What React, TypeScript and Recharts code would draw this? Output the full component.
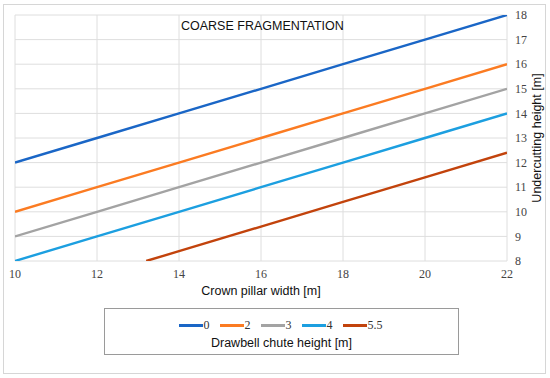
import React from "react";
import { LineChart, Line, XAxis, YAxis, CartesianGrid, Legend, Label } from "recharts";

const xTicks = [10, 12, 14, 16, 18, 20, 22];
const yTicks = [8, 9, 10, 11, 12, 13, 14, 15, 16, 17, 18];

const s0 = [
  { x: 10, y: 12 }, { x: 12, y: 13 }, { x: 14, y: 14 }, { x: 16, y: 15 },
  { x: 18, y: 16 }, { x: 20, y: 17 }, { x: 22, y: 18 },
];
const s2 = [
  { x: 10, y: 10 }, { x: 12, y: 11 }, { x: 14, y: 12 }, { x: 16, y: 13 },
  { x: 18, y: 14 }, { x: 20, y: 15 }, { x: 22, y: 16 },
];
const s3 = [
  { x: 10, y: 9 }, { x: 12, y: 10 }, { x: 14, y: 11 }, { x: 16, y: 12 },
  { x: 18, y: 13 }, { x: 20, y: 14 }, { x: 22, y: 15 },
];
const s4 = [
  { x: 10, y: 8 }, { x: 12, y: 9 }, { x: 14, y: 10 }, { x: 16, y: 11 },
  { x: 18, y: 12 }, { x: 20, y: 13 }, { x: 22, y: 14 },
];
const s55 = [
  { x: 13.2, y: 8 }, { x: 14, y: 8.4 }, { x: 16, y: 9.4 },
  { x: 18, y: 10.4 }, { x: 20, y: 11.4 }, { x: 22, y: 12.4 },
];

const seriesNames = ["0", "2", "3", "4", "5.5"];
const seriesData = [s0, s2, s3, s4, s55];
const seriesColors = ["#1a66c6", "#fb7b22", "#a3a3a3", "#1c9fe0", "#c2430c"];

const sans = "'Liberation Sans', Arial, sans-serif";
const serif = "'Liberation Serif', 'Times New Roman', serif";

const LegendContent = () => (
  <div
    style={{
      width: 355,
      height: 47,
      boxSizing: "border-box",
      border: "1px solid #9a9a9a",
      background: "#fff",
      display: "flex",
      flexDirection: "column",
      alignItems: "center",
    }}
  >
    <div style={{ display: "flex", alignItems: "center", marginTop: 9, height: 14, marginLeft: 8 }}>
      {seriesNames.map((n, i) => (
        <div key={n} style={{ display: "flex", alignItems: "center", marginRight: 10 }}>
          <div style={{ width: 24, height: 3, background: seriesColors[i] }} />
          <span style={{ fontFamily: serif, fontSize: 12, color: "#333", marginLeft: 1 }}>{n}</span>
        </div>
      ))}
    </div>
    <div style={{ fontFamily: sans, fontSize: 12.5, color: "#111", marginTop: 4 }}>
      Drawbell chute height [m]
    </div>
  </div>
);

export default function App() {
  return (
    <div style={{ position: "absolute", left: 0, top: 0, width: 550, height: 378, background: "#fff" }}>
      <div
        style={{
          position: "absolute",
          left: 3,
          top: 4,
          width: 543,
          height: 370,
          boxSizing: "border-box",
          border: "1px solid #d6d6d6",
        }}
      />
      <div
        style={{
          position: "absolute",
          left: 181,
          top: 19,
          fontFamily: sans,
          fontSize: 12.5,
          color: "#111",
          zIndex: 2,
        }}
      >
        COARSE FRAGMENTATION
      </div>
      <LineChart
        width={550}
        height={378}
        margin={{ top: 15, right: 0, bottom: 0, left: 15 }}
        style={{ position: "absolute", left: 0, top: 0 }}
      >
        <CartesianGrid stroke="#dedede" strokeWidth={1} horizontalValues={yTicks} verticalValues={xTicks} />
        <XAxis
          type="number"
          dataKey="x"
          domain={[10, 22]}
          ticks={xTicks}
          height={117}
          axisLine={false}
          tickLine={false}
          tick={{ fontFamily: serif, fontSize: 12, fill: "#444" }}
          allowDataOverflow
        >
          <Label
            value="Crown pillar width [m]"
            position="insideTop"
            offset={25}
            style={{ fontFamily: sans, fontSize: 12.5, fill: "#111" }}
          />
        </XAxis>
        <YAxis
          type="number"
          orientation="right"
          domain={[8, 18]}
          ticks={yTicks}
          width={43}
          axisLine={false}
          tickLine={false}
          tick={{ fontFamily: serif, fontSize: 12, fill: "#444", textAnchor: "start" }}
          allowDataOverflow
        >
          <Label
            value="Undercutting height [m]"
            angle={-90}
            position="insideRight"
            offset={13}
            style={{ fontFamily: sans, fontSize: 12.5, fill: "#111", textAnchor: "middle" }}
          />
        </YAxis>
        {seriesData.map((d, i) => (
          <Line
            key={seriesNames[i]}
            data={d}
            dataKey="y"
            name={seriesNames[i]}
            stroke={seriesColors[i]}
            strokeWidth={2.4}
            dot={false}
            activeDot={false}
            isAnimationActive={false}
          />
        ))}
        <Legend
          layout="horizontal"
          verticalAlign="middle"
          align="center"
          content={LegendContent}
          wrapperStyle={{ position: "absolute", left: 104, top: 308, width: 355, height: 47 }}
        />
      </LineChart>
    </div>
  );
}
